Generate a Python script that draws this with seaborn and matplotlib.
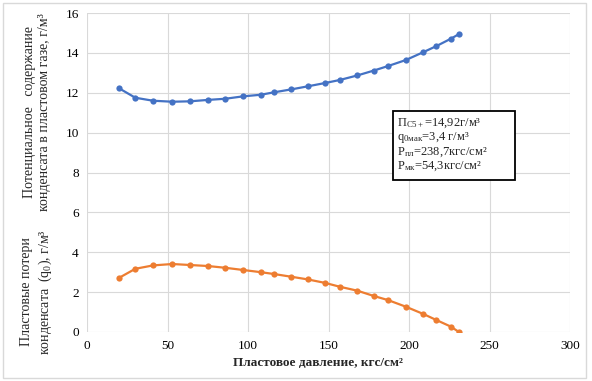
import matplotlib
matplotlib.use("Agg")
import matplotlib.pyplot as plt
import seaborn as sns
import pandas as pd
from matplotlib.patches import Rectangle

pressure = [20, 30, 41, 53, 64, 75, 86, 97, 108, 116, 127, 137, 148, 157, 168, 178, 187, 198, 209, 217, 226, 231]
content = [12.22, 11.75, 11.60, 11.55, 11.57, 11.64, 11.70, 11.82, 11.90, 12.02, 12.17, 12.32, 12.49, 12.64,
           12.87, 13.11, 13.34, 13.64, 14.04, 14.34, 14.71, 14.94]
losses = [2.72, 3.17, 3.34, 3.41, 3.36, 3.31, 3.22, 3.11, 3.00, 2.91, 2.77, 2.64, 2.46, 2.27,
          2.07, 1.81, 1.60, 1.27, 0.90, 0.60, 0.27, 0.0]
xticks = [0, 50, 100, 150, 200, 250, 300]
yticks = [0, 2, 4, 6, 8, 10, 12, 14, 16]

sns.set_theme(style="white")
plt.rcParams['font.family'] = ['Liberation Serif', 'DejaVu Serif']
plt.rcParams['mathtext.fontset'] = 'custom'
plt.rcParams['mathtext.rm'] = 'Liberation Serif'
plt.rcParams['mathtext.it'] = 'Liberation Serif'

fig = plt.figure(figsize=(5.92, 3.81), dpi=100)
ax = fig.add_axes([87/592, 1 - 332/381, (570-87)/592, (332-13)/381])

df = pd.DataFrame({"p": pressure, "c": content, "l": losses})
sns.lineplot(data=df, x="p", y="c", ax=ax, color="#4472C4", marker="o", markersize=4.5,
             markeredgewidth=0, linewidth=1.6)
sns.lineplot(data=df, x="p", y="l", ax=ax, color="#ED7D31", marker="o", markersize=4.5,
             markeredgewidth=0, linewidth=1.6)

ax.set_xlim(0, 300)
ax.set_ylim(0, 16)
ax.set_xticks(xticks)
ax.set_yticks(yticks)
ax.grid(True, color="#D9D9D9", linewidth=0.8)
for s in ax.spines.values():
    s.set_visible(False)
ax.tick_params(axis="both", labelsize=9.5, colors="#404040", length=0, pad=6)
for t in ax.get_xticklabels() + ax.get_yticklabels():
    t.set_color("black")
ax.set_xlabel("")
ax.set_ylabel("")

fig.text(318/592, 1 - 363/381, "Пластовое давление, кгс/см²", ha="center", va="center",
         fontsize=9.5, fontweight="bold")
fig.text(37/592, 1 - 112/381, "Потенциальное   содержание\nконденсата в пластовом газе, г/м³",
         rotation=90, ha="center", va="center", fontsize=10, multialignment="center", linespacing=1.25)
fig.text(37/592, 1 - 292/381, "Пластовые потери\nконденсата  (q$_0$), г/м³",
         rotation=90, ha="center", va="center", fontsize=10, multialignment="center", linespacing=1.25)

# annotation box
box = Rectangle((393/592, 1 - 180/381), (515-393)/592, (180-111)/381, transform=fig.transFigure,
                facecolor="white", edgecolor="black", linewidth=1.3, zorder=5)
fig.patches.append(box)
lines = ["П$_{\\mathrm{C5+}}$=14,92г/м³",
         "q$_{\\mathrm{0мак}}$=3,4 г/м³",
         "P$_{\\mathrm{пл}}$=238,7кгс/см²",
         "P$_{\\mathrm{мк}}$=54,3кгс/см²"]
for i, s in enumerate(lines):
    fig.text(397/592, 1 - (123 + i*14.5)/381, s, ha="left", va="center", fontsize=9, zorder=6)

# outer chart border
fig.patches.append(Rectangle((3/592, 3/381), 583/592, 375/381, transform=fig.transFigure,
                             facecolor="none", edgecolor="#D9D9D9", linewidth=1))

fig.savefig("out.png", dpi=100)
